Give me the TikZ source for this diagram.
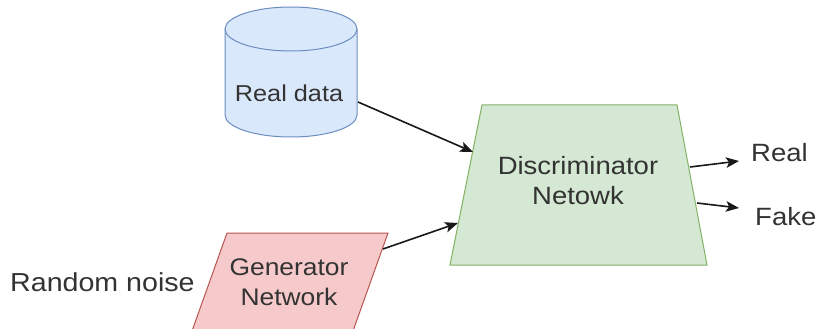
\documentclass[tikz,border=0pt]{standalone}
\usepackage{fontspec}
\setmainfont{Liberation Sans}[FakeStretch=1.1]
\usetikzlibrary{arrows.meta,calc}
\definecolor{txt}{HTML}{333333}
\definecolor{bluefill}{HTML}{DAE8FC}
\definecolor{bluedraw}{HTML}{6C8EBF}
\definecolor{greenfill}{HTML}{D5E8D4}
\definecolor{greendraw}{HTML}{82B366}
\definecolor{redfill}{HTML}{F6CACA}
\definecolor{reddraw}{HTML}{B85450}
\tikzset{
  lbl/.style={inner sep=0pt, text=txt, font=\fontsize{25}{30}\selectfont, align=center},
  arr/.style={draw=black!90, line width=1.6pt,
    -{Stealth[length=13pt, width=10.5pt, inset=3pt]}},
  shapeline/.style={line width=1pt}
}
\begin{document}
\begin{tikzpicture}[x=1pt, y=-1pt]
\useasboundingbox (0,0) rectangle (823,329);
\clip (0,0) rectangle (823,329);
\fill[white] (0,0) rectangle (823,329);

% database cylinder for the real samples
\path[shapeline, fill=bluefill, draw=bluedraw]
  (225,29) -- (225,115) arc[start angle=180, end angle=360, x radius=66pt, y radius=22pt]
  -- (357,29) arc[start angle=0, end angle=180, x radius=66pt, y radius=22pt] -- cycle;
\draw[shapeline, bluedraw] (225,29) arc[start angle=180, end angle=360, x radius=66pt, y radius=22pt];

% discriminator trapezium
\path[shapeline, fill=greenfill, draw=greendraw]
  (482,105) -- (677,105) -- (707,265) -- (450,265) -- cycle;

% generator parallelogram
\path[shapeline, fill=redfill, draw=reddraw]
  (227,233) -- (388,233) -- (353,331) -- (192,331) -- cycle;

% labels
\node[lbl, font=\fontsize{23}{28}\selectfont, anchor=base] (rd) at (289,102) {Real data};
\node[lbl] (disc) at (578,181) {Discriminator\\Netowk};
\node[lbl, font=\fontsize{24}{30}\selectfont] (gen) at (289,282) {Generator\\Network};
\node[lbl, font=\fontsize{26}{30}\selectfont, anchor=base west] (noise) at (10,291) {Random noise};
\node[lbl, anchor=base west] (real) at (751,161) {Real};
\node[lbl, anchor=base west] (fake) at (755,225) {Fake};

% connector end points on the shape borders
\coordinate (rdout) at (358,102);
\coordinate (discin1) at (473,152);
\coordinate (genout) at (383,249);
\coordinate (discin2) at (458,223);
\coordinate (discout1) at (690,167);
\coordinate (realtip) at (739,161);
\coordinate (discout2) at (697,203);
\coordinate (faketip) at (739,208);

\draw[arr] (rdout) -- (discin1);
\draw[arr] (genout) -- (discin2);
\draw[arr] (discout1) -- (realtip);
\draw[arr] (discout2) -- (faketip);
\end{tikzpicture}
\end{document}
